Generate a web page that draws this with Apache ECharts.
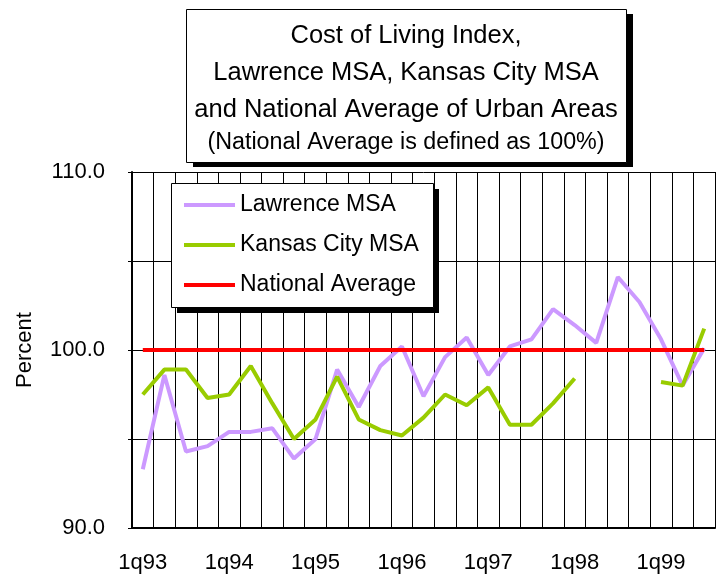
<!DOCTYPE html>
<html>
<head>
<meta charset="utf-8">
<script src="https://cdn.jsdelivr.net/npm/echarts@6/dist/echarts.min.js"></script>
<style>
html,body{margin:0;padding:0;background:#fff;}
#chart{width:717px;height:577px;}
</style>
</head>
<body>
<div id="chart"></div>
<script>
var categories = ['1q93','2q93','3q93','4q93','1q94','2q94','3q94','4q94','1q95','2q95','3q95','4q95','1q96','2q96','3q96','4q96','1q97','2q97','3q97','4q97','1q98','2q98','3q98','4q98','1q99','2q99','3q99'];
var lawrence = [93.3, 98.6, 94.3, 94.6, 95.4, 95.4, 95.6, 93.9, 95.0, 98.9, 96.8, 99.1, 100.2, 97.4, 99.6, 100.7, 98.6, 100.2, 100.6, 102.3, 101.4, 100.4, 104.1, 102.7, 100.6, 98.0, 100.1];
var kansasCity = [97.5, 98.9, 98.9, 97.3, 97.5, 99.1, 97.0, 95.0, 96.1, 98.5, 96.1, 95.5, 95.2, 96.2, 97.5, 96.9, 97.9, 95.8, 95.8, 97.0, 98.4, null, null, null, 98.2, 98.0, 101.2];
var national = [100, 100, 100, 100, 100, 100, 100, 100, 100, 100, 100, 100, 100, 100, 100, 100, 100, 100, 100, 100, 100, 100, 100, 100, 100, 100, 100];
var yTicks = [90, 100, 110];

var FONT = 'Liberation Sans, Arial, sans-serif';

function shadowBox(x, y, w, h, dx, dy, z) {
  return [
    {type: 'rect', z: z, silent: true, shape: {x: x + dx, y: y + dy, width: w, height: h}, style: {fill: '#000'}},
    {type: 'rect', z: z, silent: true, shape: {x: x + 0.5, y: y + 0.5, width: w, height: h}, style: {fill: '#fff', stroke: '#000', lineWidth: 1}}
  ];
}

var chart = echarts.init(document.getElementById('chart'), null, {renderer: 'canvas'});
chart.setOption({
  animation: false,
  backgroundColor: '#fff',
  textStyle: {fontFamily: FONT, color: '#000'},
  graphic: shadowBox(186, 9, 440, 153, 7, 5, 5).concat(shadowBox(171, 183, 262, 124, 6, 6, 3)),
  title: {
    text: 'Cost of Living Index,\nLawrence MSA, Kansas City MSA\nand National Average of Urban Areas',
    subtext: '(National Average is defined as 100%)',
    left: 406,
    top: 17,
    textAlign: 'center',
    padding: 0,
    itemGap: 0,
    z: 6,
    textStyle: {fontFamily: FONT, fontSize: 25.5, fontWeight: 'normal', color: '#000', lineHeight: 37},
    subtextStyle: {fontFamily: FONT, fontSize: 23.3, color: '#000', lineHeight: 30}
  },
  legend: {
    orient: 'vertical',
    left: 171,
    top: 183,
    padding: [9, 14, 8, 13],
    itemGap: 14,
    itemWidth: 51,
    itemHeight: 4,
    icon: 'rect',
    z: 4,
    textStyle: {fontFamily: FONT, fontSize: 23, color: '#000', lineHeight: 26},
    data: ['Lawrence MSA', 'Kansas City MSA', 'National Average']
  },
  grid: {left: 132, right: 2, top: 172, bottom: 49, containLabel: false},
  xAxis: {
    type: 'category',
    data: categories,
    boundaryGap: true,
    axisLine: {show: true, lineStyle: {color: '#000', width: 2}},
    axisTick: {show: true, inside: true, length: 6, interval: 0, lineStyle: {color: '#000', width: 1}},
    axisLabel: {interval: 3, fontFamily: FONT, fontSize: 22, color: '#000', margin: 24},
    splitLine: {show: true, interval: 0, lineStyle: {color: '#000', width: 1}}
  },
  yAxis: {
    type: 'value',
    min: 90,
    max: 110,
    interval: 5,
    name: 'Percent',
    nameLocation: 'middle',
    nameGap: 96,
    nameTextStyle: {fontFamily: FONT, fontSize: 22, color: '#000'},
    axisLine: {show: true, lineStyle: {color: '#000', width: 2}},
    axisTick: {show: true, length: 4, lineStyle: {color: '#000', width: 1}},
    axisLabel: {
      fontFamily: FONT, fontSize: 22, color: '#000', margin: 27,
      formatter: function (v) { return yTicks.indexOf(v) >= 0 ? v.toFixed(1) : ''; }
    },
    splitLine: {show: true, lineStyle: {color: '#000', width: 1}}
  },
  series: [
    {name: 'Lawrence MSA', type: 'line', z: 2, data: lawrence, symbol: 'none', color: '#CC99FF', lineStyle: {width: 4, color: '#CC99FF'}},
    {name: 'Kansas City MSA', type: 'line', z: 2, data: kansasCity, symbol: 'none', connectNulls: false, color: '#99CC00', lineStyle: {width: 4, color: '#99CC00'}},
    {name: 'National Average', type: 'line', z: 2, data: national, symbol: 'none', color: '#FF0000', lineStyle: {width: 4, color: '#FF0000'}}
  ]
});
</script>
</body>
</html>
